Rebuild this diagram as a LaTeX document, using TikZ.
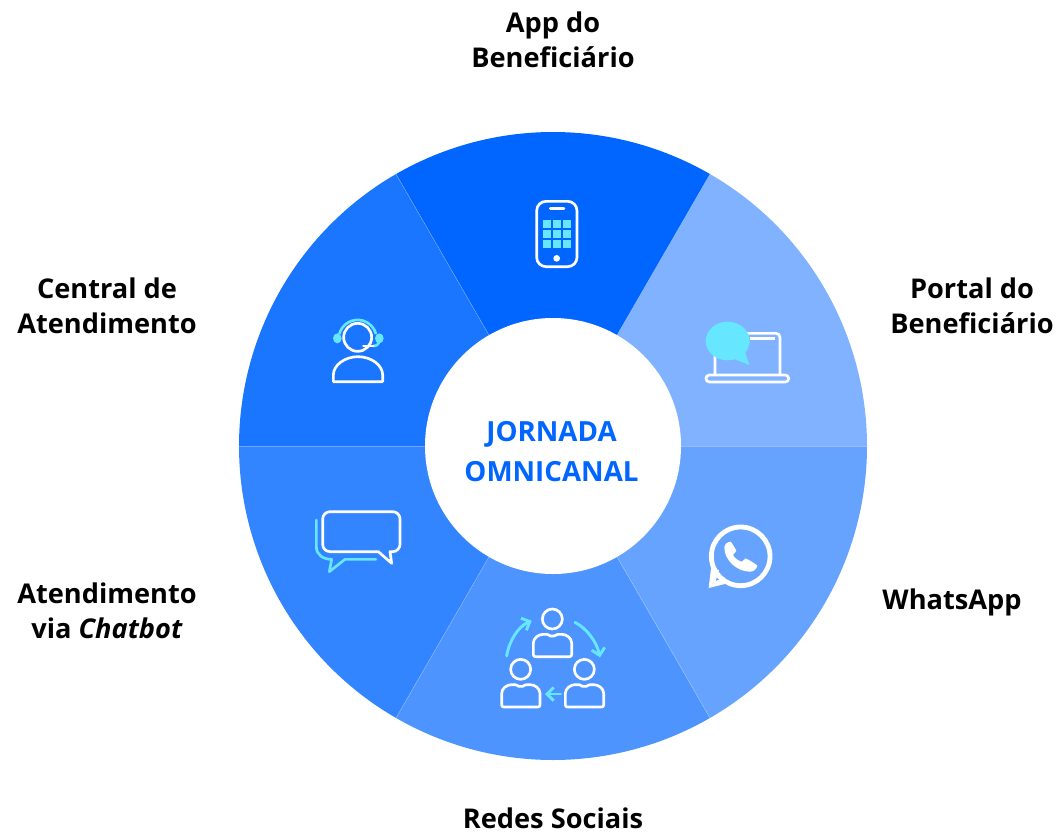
\documentclass[tikz,border=0pt]{standalone}
\usepackage{fontspec}
\setmainfont{Open Sans}
\usetikzlibrary{arrows.meta}
\definecolor{ciano}{HTML}{66E6FF}
\definecolor{azul}{HTML}{0066FF}
\tikzset{
  rotulo/.style={font=\fontsize{20.4}{26.25}\selectfont\bfseries,align=center,text=black,inner sep=0pt},
  icone/.style={x=.25pt,y=-.25pt},
  traco/.style={draw=white,line width=2pt,line join=round},
  linhaciano/.style={draw=ciano,line width=2pt,line join=round},
  seta/.style={draw=ciano,line width=2.2pt,line cap=round,-{Straight Barb[length=5pt,width=10pt,line width=2.2pt]}}
}
\begin{document}
\begin{tikzpicture}[x=.75pt,y=-.75pt]
\useasboundingbox (0,0) rectangle (1056,832);

% sectors
\begin{scope}[shift={(553,446)}]
\foreach \a/\cor in {-60/80B2FF,-120/0066FF,0/66A3FF,60/4D94FF,120/3385FF,-180/1A75FF}
{
  \definecolor{fatia}{HTML}{\cor}
  \fill[fatia] (\a:100) -- (\a:314) arc[start angle=\a,delta angle=60,radius=314] -- (\a+60:100) -- cycle;
}
\foreach \a in {-120,-60,0,60,120,180}
  \draw[white,opacity=.3,line width=.4pt] (\a:100) -- (\a:314);
\end{scope}

% centre
\node[circle,fill=white,minimum size=192pt,inner sep=0pt] (centro) at (553,446) {};
\node[text=azul,align=center,font=\fontsize{20.8}{30}\selectfont\bfseries] (jornada) at (551.5,452) {JORNADA\\OMNICANAL};

% labels
\node[rotulo] (app) at (553,40) {App do\\Beneficiário};
\node[rotulo] (portal) at (972,306) {Portal do\\Beneficiário};
\node[rotulo] (whats) at (952,602) {WhatsApp};
\node[rotulo] (redes) at (553,818) {Redes Sociais};
\node[rotulo] (chatbot) at (107,611) {Atendimento\\via \textit{Chatbot}};
\node[rotulo] (central) at (107,306) {Central de\\Atendimento};

% phone
\begin{scope}[shift={(500,180)},icone]
\draw[traco,rounded corners=7pt] (110,64) rectangle (231,260);
\draw[traco,line cap=round] (151,85) -- (192,85);
\foreach \x in {128,158,188}
  \foreach \y in {120,150,180}
    \fill[ciano] (\x,\y) rectangle +(25,25);
\fill[white] (170,235) circle[radius=10];
\end{scope}

% laptop
\begin{scope}[shift={(690,310)},icone]
\draw[traco,rounded corners=3pt] (75,195) -- (75,70) -- (270,70) -- (270,195);
\draw[traco] (180,85) -- (255,85);
\draw[traco,rounded corners=2.5pt] (48,195) rectangle (296,216);
\fill[ciano] (113,93) ellipse[x radius=66,y radius=58];
\fill[ciano] (165,125) -- (178,165) -- (135,148) -- cycle;
\end{scope}

% whatsapp
\begin{scope}[shift={(695,515)},icone]
\draw[white,line width=3.6pt] (137,124) circle[radius=88];
\fill[white] (48,160) -- (41,219) -- (98,205) -- (88,187) -- (62,198) -- (72,165) -- cycle;
\fill[white] (88,97) .. controls (88,88) and (98,80) .. (107,80) .. controls (113,88) and (120,98) .. (124,108)
  -- (114,120) .. controls (120,130) and (128,136) .. (140,140) -- (152,130)
  .. controls (162,135) and (177,143) .. (187,152) .. controls (185,163) and (175,170) .. (165,170)
  .. controls (125,170) and (88,135) .. (88,97) -- cycle;
\end{scope}

% people
\begin{scope}[shift={(490,600)},icone]
\foreach \dx/\dy in {0/0,-95/151,96/151}
{
  \begin{scope}[shift={(\dx*.25pt,-\dy*.25pt)}]
  \draw[traco] (187,57) circle[radius=30];
  \draw[traco,rounded corners=1.5pt] (130,170) -- (130,135) .. controls (130,115) and (145,103) .. (165,103)
    .. controls (175,103) and (180,108) .. (187,108) .. controls (194,108) and (200,103) .. (210,103)
    .. controls (230,103) and (245,115) .. (245,135) -- (245,170) -- cycle;
  \end{scope}
}
\draw[seta] (50,168) .. controls (58,120) and (85,80) .. (125,62);
\draw[seta] (255,67) .. controls (290,85) and (320,125) .. (330,172);
\draw[seta] (212,282) -- (165,282);
\end{scope}

% chat
\begin{scope}[shift={(305,500)},icone]
\draw[traco] (75,35) -- (263,35) arc[start angle=-90,end angle=0,radius=22] -- (285,133) arc[start angle=0,end angle=90,radius=22]
  -- (255,155) -- (260,190) -- (220,155) -- (75,155) arc[start angle=90,end angle=180,radius=22]
  -- (53,57) arc[start angle=180,end angle=270,radius=22] -- cycle;
\draw[linhaciano,line cap=round] (34,60) -- (34,140) .. controls (34,165) and (55,178) .. (80,178) -- (73,215) -- (120,178) -- (213,178);
\end{scope}

% headset
\begin{scope}[shift={(320,310)},icone]
\fill[ciano] (52,85) ellipse[x radius=13,y radius=15];
\fill[ciano] (178,85) ellipse[x radius=13,y radius=15];
\draw[linhaciano] (58,72) arc[start angle=-165,end angle=-15,radius=57];
\draw[traco] (113,82) circle[radius=42];
\draw[traco] (40,215) -- (40,195) .. controls (40,165) and (75,140) .. (114,140) .. controls (153,140) and (188,165) .. (188,195) -- (188,215) -- cycle;
\draw[linhaciano] (178,92) .. controls (176,103) and (170,108) .. (160,108);
\draw[traco,line cap=round] (130,108) -- (160,108);
\end{scope}
\end{tikzpicture}
\end{document}
